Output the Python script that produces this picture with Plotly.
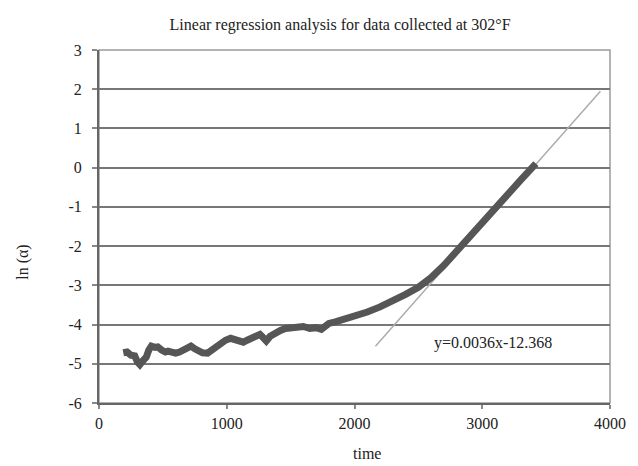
import plotly.graph_objects as go

# measured curve ln(alpha) vs time
time = [190, 220, 250, 280, 300, 320, 345, 370, 390, 410, 440, 460, 490, 520, 540, 570,
        600, 630, 660, 690, 720, 750, 780, 810, 850, 880, 920, 950, 990, 1030, 1070, 1100,
        1130, 1160, 1190, 1220, 1260, 1290, 1310, 1340, 1380, 1420, 1460, 1510, 1560, 1600,
        1650, 1700, 1740, 1770, 1800, 1850, 1900, 1950, 2000, 2050, 2100, 2200, 2300, 2400,
        2500, 2600, 2700, 2800, 2900, 3000, 3100, 3200, 3300, 3420]
ln_alpha = [-4.72, -4.70, -4.78, -4.80, -4.95, -5.02, -4.92, -4.83, -4.65, -4.55, -4.58, -4.57,
            -4.65, -4.70, -4.68, -4.72, -4.73, -4.70, -4.65, -4.60, -4.55, -4.62, -4.68, -4.72,
            -4.73, -4.65, -4.55, -4.47, -4.40, -4.35, -4.38, -4.42, -4.45, -4.40, -4.36, -4.30,
            -4.25, -4.35, -4.42, -4.30, -4.20, -4.15, -4.10, -4.07, -4.08, -4.05, -4.10, -4.08,
            -4.12, -4.05, -3.97, -3.93, -3.88, -3.85, -3.80, -3.75, -3.68, -3.55, -3.40, -3.23,
            -3.05, -2.80, -2.49, -2.14, -1.78, -1.42, -1.05, -0.68, -0.32, 0.10]

# regression line end points (as drawn)
trend_x = [2164, 3925]
trend_y = [-4.55, 1.95]
trend_label = "y=0.0036x-12.368"

x_ticks = [0, 1000, 2000, 3000, 4000]
y_ticks = [-6, -5, -4, -3, -2, -1, 0, 1, 2, 3]

serif = "Liberation Serif"
txt = "#222222"

fig = go.Figure()
fig.add_trace(go.Scatter(x=trend_x, y=trend_y, mode="lines",
                         line=dict(color="#acacac", width=1.5),
                         hoverinfo="skip", showlegend=False))
fig.add_trace(go.Scatter(x=time, y=ln_alpha, mode="lines",
                         line=dict(color="#565656", width=7),
                         hoverinfo="skip", showlegend=False))

L, R, T, B = 99, 26, 50, 63
PW, PH = 638 - L - R, 466 - T - B

fig.update_layout(
    width=638, height=466,
    margin=dict(l=L, r=R, t=T, b=B),
    paper_bgcolor="white", plot_bgcolor="white",
    font=dict(family=serif, size=16, color=txt),
    title=dict(text="Linear regression analysis for data collected at 302°F",
               x=(341 - L) / PW, xref="paper", xanchor="center",
               y=1 - 24 / 466, yref="container", yanchor="middle",
               font=dict(family=serif, size=16, color=txt)),
    showlegend=False,
)
fig.update_xaxes(range=[0, 4000], tickvals=x_ticks, ticktext=[str(v) for v in x_ticks],
                 showgrid=False, zeroline=False,
                 showline=True, linecolor="#666666", linewidth=2,
                 ticks="outside", ticklen=4, tickcolor="#888888", tickwidth=1.5,
                 ticklabelstandoff=1,
                 tickfont=dict(family=serif, size=16, color=txt))
fig.update_yaxes(range=[-6, 3], tickvals=y_ticks, ticktext=[str(v) for v in y_ticks],
                 showgrid=True, gridcolor="#777777", gridwidth=2, zeroline=False,
                 showline=True, linecolor="#666666", linewidth=2,
                 ticks="outside", ticklen=5, tickcolor="#888888", tickwidth=1.5,
                 ticklabelstandoff=7,
                 tickfont=dict(family=serif, size=16, color=txt))

# light plot frame (top and right edges)
fig.add_shape(type="rect", xref="paper", yref="paper", x0=0, x1=1, y0=0, y1=1,
              line=dict(color="#9a9a9a", width=1.5), layer="below")

fig.add_annotation(x=3081, y=-4.47, xref="x", yref="y", text=trend_label,
                   xanchor="center", yanchor="middle",
                   showarrow=False, font=dict(family=serif, size=16, color=txt))
fig.add_annotation(x=(22.5 - L) / PW, y=(403 - 262) / PH, xref="paper", yref="paper",
                   xanchor="center", yanchor="middle",
                   text="ln (α)", textangle=-90, showarrow=False,
                   font=dict(family=serif, size=16, color=txt))
fig.add_annotation(x=(368 - L) / PW, y=(403 - 453) / PH, xref="paper", yref="paper",
                   xanchor="center", yanchor="middle",
                   text="time", showarrow=False,
                   font=dict(family=serif, size=16, color=txt))

fig.write_html("out.html")
